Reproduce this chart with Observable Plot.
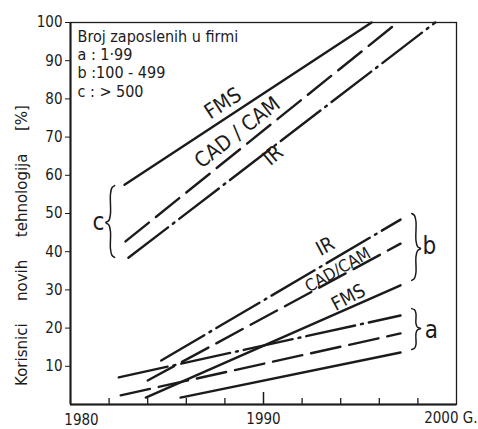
<!DOCTYPE html>
<html><head><meta charset="utf-8">
<script src="https://cdn.jsdelivr.net/npm/d3@7"></script>
<script src="https://cdn.jsdelivr.net/npm/@observablehq/plot@0.6"></script>
<style>body{margin:0;background:#fff;}</style>
</head><body><div id="chart"></div>
<script>
// ---- data ----
const seriesNames  = ["FMS a","CAD/CAM a","IR a","FMS b","CAD/CAM b","IR b","FMS c","CAD/CAM c","IR c"];
const seriesTech   = ["FMS","CAD/CAM","IR","FMS","CAD/CAM","IR","FMS","CAD/CAM","IR"];
const startYears   = [1985.7, 1982.6, 1982.5, 1983.9, 1984.0, 1984.7, 1982.8, 1982.85, 1983.0];
const startValues  = [1.8, 2.4, 7.1, 1.8, 6.3, 11.5, 57.5, 42.7, 38.4];
const endYears     = [1997.1, 1997.1, 1997.1, 1997.1, 1997.1, 1997.1, 1995.6, 1996.95, 1998.9];
const endValues    = [13.6, 18.6, 23.3, 31.2, 42.1, 48.4, 100, 100, 100];

const yTicks = [10,20,30,40,50,60,70,80,90,100];
const xMinorTicks = [1982,1984,1986,1988,1992,1994,1996,1998];
const xMajorTicks = [1990];
const xLabels = ["1980","1990","2000 G."];
const xLabelYears = [1980,1990,2000];

const legendLines = ["Broj zaposlenih u firmi","a : 1·99","b :100 - 499","c : > 500"];
const yTitle = "Korisnici\u2003\u2002novih\u2003\u2002tehnologija\u2003\u2002[%]";

// line labels
const labelTexts  = ["FMS","CAD / CAM","IR","IR","CAD/CAM","FMS"];
const labelYears  = [1987.9, 1988.65, 1990.5, 1993.2, 1993.85, 1994.4];
const labelValues = [78.8, 71.2, 65.2, 41.4, 35.2, 28.0];
const labelAngles = [-33, -38, -40, -28, -30, -28];
const labelSizes  = [21, 21, 21, 20, 17, 19];

// group braces
const groupNames   = ["a","b","c"];
const braceTop     = [25.1, 50.0, 57.3];
const braceBottom  = [14.4, 32.5, 38.5];
const braceTip     = [19.9, 40.8, 47.6];
const braceYear    = [1997.9, 1997.9, 1982.07];
const braceSide    = [1, 1, -1];
const letterYears  = [1998.7, 1998.6, 1981.45];
const letterValues = [19.4, 41.4, 47.6];

// ---- build tables ----
const points = [];
seriesNames.forEach((s,i) => {
  points.push({series:s, tech:seriesTech[i], year:startYears[i], value:startValues[i]});
  points.push({series:s, tech:seriesTech[i], year:endYears[i], value:endValues[i]});
});
const labels = labelTexts.map((t,i)=>({t, x:labelYears[i], y:labelValues[i], a:labelAngles[i], s:labelSizes[i]}));

function bracePts(name, x0, yTop, yBot, yTip, dir){
  const w = 0.24, hook = 0.22, H = yTop - yBot;
  const tip = x0 + dir*w, hk = x0 - dir*hook;
  return [
    [hk, yTop],[x0 - dir*hook*0.35, yTop - H*0.03],[x0, yTop - H*0.12],
    [x0, yTip + H*0.12],[x0 + dir*w*0.35, yTip + H*0.03],[tip, yTip],
    [x0 + dir*w*0.35, yTip - H*0.03],[x0, yTip - H*0.12],
    [x0, yBot + H*0.12],[x0 - dir*hook*0.35, yBot + H*0.03],[hk, yBot]
  ].map(([x,y])=>({g:name,x,y}));
}
const braces = groupNames.flatMap((g,i)=>bracePts(g, braceYear[i], braceTop[i], braceBottom[i], braceTip[i], braceSide[i]));
const letters = groupNames.map((g,i)=>({g, x:letterYears[i], y:letterValues[i]}));

const ink = "#1b1b1b";
const FONT = "'DejaVu Sans Condensed','DejaVu Sans',sans-serif";
const lineStyle = {FMS:"none", "CAD/CAM":"30,9", IR:"50,6,2,6"};

const chart = Plot.plot({
  width: 478, height: 429,
  marginLeft: 70, marginRight: 22, marginTop: 22, marginBottom: 25,
  style: {fontFamily: FONT, fontSize: "15px", color: ink, background: "white"},
  x: {domain: [1980, 2000], axis: null},
  y: {domain: [0, 100], axis: null},
  marks: [
    Plot.frame({stroke: ink, strokeWidth: 1.3}),
    Plot.ruleX([1980], {stroke: ink, strokeWidth: 2}),
    Plot.ruleY([0], {stroke: ink, strokeWidth: 2}),
    Plot.axisY({ticks: yTicks, tickSize: 5, tickPadding: 3, fontSize: 15, label: null, stroke: ink}),
    Plot.ruleX(xMinorTicks, {insetTop: 382 - 6, stroke: ink, strokeWidth: 1.3}),
    Plot.ruleX(xMajorTicks, {insetTop: 382 - 12, stroke: ink, strokeWidth: 1.5}),
    Plot.text([xLabels[0]], {x: () => xLabelYears[0], frameAnchor: "bottom", lineAnchor: "middle", dy: 16, dx: 11, fontSize: 15}),
    Plot.text([xLabels[1]], {x: () => xLabelYears[1], frameAnchor: "bottom", lineAnchor: "middle", dy: 15, fontSize: 15}),
    Plot.text([xLabels[2]], {x: () => xLabelYears[2], frameAnchor: "bottom", lineAnchor: "middle", dy: 14, dx: 21, textAnchor: "end", fontSize: 15}),
    Plot.text([yTitle], {frameAnchor: "left", textAnchor: "middle", rotate: -90, dx: -48, dy: 32, fontSize: 15, fontFamily: "'DejaVu Sans',sans-serif"}),
    Plot.text([legendLines.join("\n")], {frameAnchor: "top-left", dx: 7, dy: 7, lineHeight: 1.13, fontSize: 16, textAnchor: "start"}),
    ...Object.keys(lineStyle).map(t => Plot.line(points.filter(d => d.tech === t), {
      x: "year", y: "value", z: "series", stroke: ink, strokeWidth: 2.4,
      strokeDasharray: lineStyle[t] === "none" ? null : lineStyle[t]
    })),
    Plot.line(braces, {x: "x", y: "y", z: "g", curve: "catmull-rom", stroke: ink, strokeWidth: 1.5}),
    Plot.text(letters, {x: "x", y: "y", text: "g", fontSize: 24}),
    Plot.text(labels, {x: "x", y: "y", text: "t", rotate: "a", fontSize: "s"})
  ]
});
document.getElementById("chart").append(chart);
</script>
</body></html>
